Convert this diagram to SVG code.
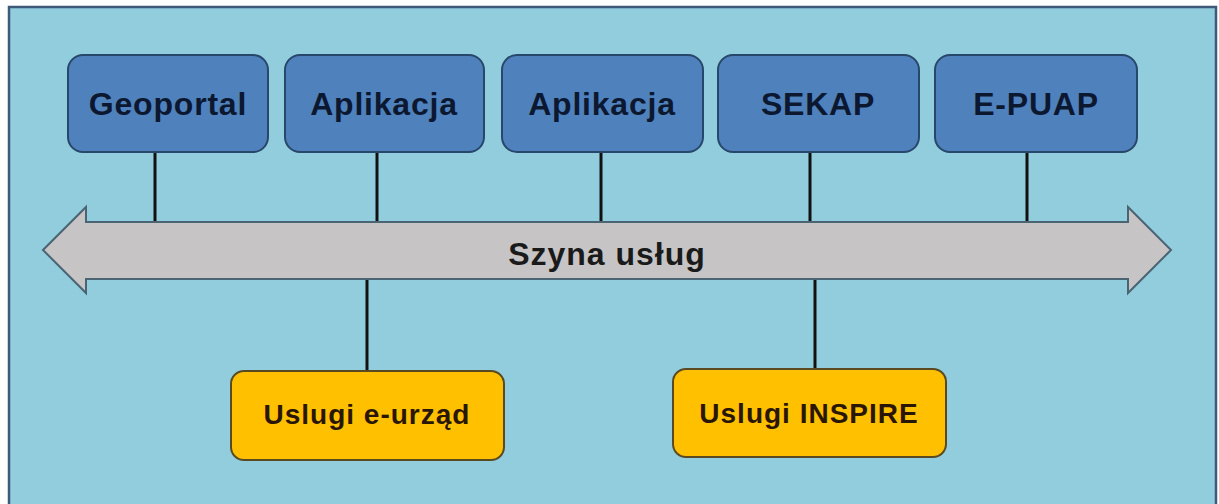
<svg xmlns="http://www.w3.org/2000/svg" width="1219" height="504" viewBox="0 0 1219 504">
<style>
.top rect{fill:#4f81bd;stroke:#27476b;stroke-width:2}
.top text{font-family:"Liberation Sans",Arial,sans-serif;font-weight:bold;font-size:32px;letter-spacing:0.8px;fill:#0c1830;text-anchor:middle}
.bot rect{fill:#ffc000;stroke:#5a4a22;stroke-width:2}
.bot text{font-family:"Liberation Sans",Arial,sans-serif;font-weight:bold;font-size:28px;letter-spacing:1px;fill:#2a1604;text-anchor:middle}
.conn line{stroke:#111;stroke-width:3}
</style>
<rect x="0" y="0" width="1219" height="504" fill="#ffffff"/>
<rect x="9" y="7" width="1207" height="510" fill="#92cddd" stroke="#3d5a78" stroke-width="2.5"/>
<g id="connectors" class="conn">
<line x1="155" y1="152" x2="155" y2="223"/>
<line x1="377" y1="152" x2="377" y2="223"/>
<line x1="601" y1="152" x2="601" y2="223"/>
<line x1="810" y1="152" x2="810" y2="223"/>
<line x1="1027" y1="152" x2="1027" y2="223"/>
<line x1="367" y1="279" x2="367" y2="371"/>
<line x1="815" y1="279" x2="815" y2="369"/>
</g>
<g id="bus">
<polygon points="43,250 86,207 86,222 1128,222 1128,207 1171,250 1128,293 1128,279 86,279 86,293" fill="#c6c4c4" stroke="#4a6474" stroke-width="2"/>
<text x="607" y="265" font-family="Liberation Sans, Arial, sans-serif" font-weight="bold" font-size="32" letter-spacing="1" fill="#1a1a1a" text-anchor="middle">Szyna usług</text>
</g>
<g id="geoportal" class="top"><rect x="68" y="55" width="200" height="97" rx="15"/><text x="168" y="115">Geoportal</text></g>
<g id="aplikacja1" class="top"><rect x="285" y="55" width="199" height="97" rx="15"/><text x="384" y="115">Aplikacja</text></g>
<g id="aplikacja2" class="top"><rect x="502" y="55" width="201" height="97" rx="15"/><text x="602" y="115">Aplikacja</text></g>
<g id="sekap" class="top"><rect x="718" y="55" width="201" height="97" rx="15"/><text x="818" y="115">SEKAP</text></g>
<g id="epuap" class="top"><rect x="935" y="55" width="202" height="97" rx="15"/><text x="1036" y="115">E-PUAP</text></g>
<g id="uslugi-eurzad" class="bot"><rect x="231" y="371" width="273" height="89" rx="13"/><text x="367" y="424">Uslugi e-urząd</text></g>
<g id="uslugi-inspire" class="bot"><rect x="673" y="369" width="273" height="88" rx="13"/><text x="809" y="423">Uslugi INSPIRE</text></g>
</svg>
